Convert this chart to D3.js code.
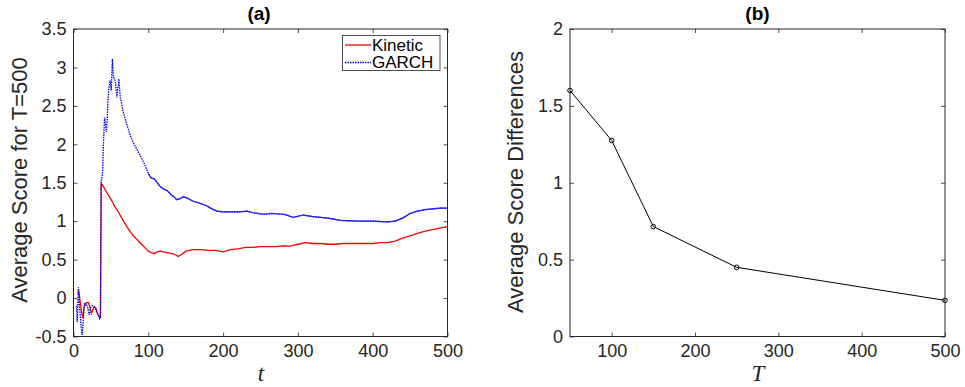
<!DOCTYPE html>
<html>
<head>
<meta charset="utf-8">
<script src="https://cdn.jsdelivr.net/npm/d3@7"></script>
<style>
  html, body { margin: 0; padding: 0; background: #fff; }
  svg { display: block; }
</style>
</head>
<body>
<svg id="chart" width="965" height="387"></svg>
<script>
// ---------- Data: panel (a) ----------
const kineticT = [6,7,9,11,12.5,14,17,20,22,24,26,28,30,32,35,36,37,40,44,48,52,56,60,64,68,72,76,80,84,88,92,96,100,104,108,112,116,120,125,130,135,140,145,150,155,160,170,180,190,200,210,220,230,240,250,260,270,280,290,300,310,320,330,340,350,360,370,380,390,400,410,420,430,440,450,460,470,480,490,500];
const kineticV = [0.05,0.1,-0.05,-0.2,-0.26,-0.12,-0.06,-0.06,-0.12,-0.2,-0.15,-0.11,-0.13,-0.2,-0.25,-0.25,1.49,1.45,1.38,1.32,1.25,1.18,1.12,1.05,0.98,0.92,0.86,0.81,0.77,0.73,0.69,0.65,0.61,0.59,0.58,0.6,0.61,0.6,0.59,0.58,0.57,0.54,0.57,0.61,0.62,0.63,0.63,0.62,0.62,0.6,0.63,0.64,0.66,0.66,0.67,0.67,0.67,0.68,0.675,0.7,0.72,0.71,0.71,0.7,0.7,0.71,0.71,0.71,0.71,0.71,0.72,0.72,0.74,0.78,0.81,0.84,0.87,0.89,0.91,0.93];

const garchT = [4,5,6.5,8,10,11.6,13,14.7,17,19,21,23,25,28,30,32,35,36,37,38,39,40,41.5,43,44,45,46,47,49,50.5,52,53.5,55,56,58,59,60.7,62.5,64,66,70,75,80,85,90,95,100,104,108,112,116,120,125,130,135,138,142,147,152,160,170,178,185,192,200,210,220,232,240,254,265,281,294,307,320,340,357,380,400,419,430,440,450,460,470,480,490,500];
const garchV = [-0.1,-0.31,0.14,-0.1,-0.35,-0.48,-0.3,-0.07,-0.08,-0.12,-0.22,-0.12,-0.1,-0.12,-0.16,-0.2,-0.27,-0.27,1.53,1.55,1.66,2.0,2.35,2.25,2.16,2.31,2.55,2.7,2.83,2.7,3.11,2.87,2.85,2.81,2.61,2.7,2.85,2.61,2.55,2.44,2.3,2.14,2.02,1.93,1.84,1.74,1.62,1.56,1.55,1.5,1.45,1.42,1.4,1.35,1.31,1.28,1.29,1.32,1.3,1.26,1.23,1.2,1.16,1.13,1.12,1.12,1.12,1.13,1.11,1.09,1.1,1.09,1.05,1.08,1.06,1.04,1.01,1,1,0.99,1,1.04,1.1,1.13,1.15,1.16,1.17,1.17];

const seriesNames = ["Kinetic", "GARCH"];
const leftXTicks = [0,100,200,300,400,500];
const leftYTicks = [-0.5,0,0.5,1,1.5,2,2.5,3,3.5];

// ---------- Data: panel (b) ----------
const diffT = [50,100,150,250,500];
const diffV = [1.6,1.275,0.715,0.45,0.235];
const rightXTicks = [100,200,300,400,500];
const rightYTicks = [0,0.5,1,1.5,2];

// ---------- Drawing ----------
const SANS = "'Liberation Sans', Arial, Helvetica, sans-serif";
const SERIF = "'Liberation Serif', 'Times New Roman', serif";
const svg = d3.select("#chart");
svg.append("rect").attr("width",965).attr("height",387).attr("fill","#fff");

const axisColor = "#262626";
const tickFont = 18;

function drawAxes(g, x, y, xt, yt, xfmt, yfmt) {
  const [x0,x1] = x.range(), [y0,y1] = y.range();
  g.append("g").attr("transform",`translate(0,${y0})`)
    .call(d3.axisBottom(x).tickValues(xt).tickFormat(xfmt).tickSizeInner(-4).tickSizeOuter(0).tickPadding(8));
  g.append("g").attr("transform",`translate(0,${y1})`)
    .call(d3.axisTop(x).tickValues(xt).tickFormat("").tickSizeInner(-4).tickSizeOuter(0));
  g.append("g").attr("transform",`translate(${x0},0)`)
    .call(d3.axisLeft(y).tickValues(yt).tickFormat(yfmt).tickSizeInner(-4).tickSizeOuter(0).tickPadding(7));
  g.append("g").attr("transform",`translate(${x1},0)`)
    .call(d3.axisRight(y).tickValues(yt).tickFormat("").tickSizeInner(-4).tickSizeOuter(0));
  g.selectAll(".domain").remove();
  g.selectAll(".tick line").attr("stroke",axisColor).attr("stroke-width",0.8);
  g.selectAll(".tick text").style("font-size",tickFont+"px").style("font-family",SANS).attr("fill",axisColor);
  g.append("rect").attr("x",x0).attr("y",y1).attr("width",x1-x0).attr("height",y0-y1)
    .attr("fill","none").attr("stroke",axisColor).attr("stroke-width",1);
}

function addText(g, txt, opts) {
  const t = g.append("text").text(txt)
    .style("font-family", opts.family || SANS)
    .style("font-size", opts.size + "px")
    .attr("fill", opts.fill || axisColor)
    .attr("text-anchor", opts.anchor || "middle");
  if (opts.weight) t.style("font-weight", opts.weight);
  if (opts.italic) t.style("font-style", "italic");
  if (opts.transform) t.attr("transform", opts.transform);
  else t.attr("x", opts.x).attr("y", opts.y);
  if (opts.dy) t.attr("dy", opts.dy);
  return t;
}

// Panel (a)
const xa = d3.scaleLinear().domain([0,500]).range([73.5,447.5]);
const ya = d3.scaleLinear().domain([-0.5,3.5]).range([336.5,29]);
const ga = svg.append("g");
const fmtA = d => d === 0 ? "0" : String(d);

svg.append("clipPath").attr("id","clipA").append("rect")
  .attr("x",73.5).attr("y",29).attr("width",374).attr("height",307.5);

const lineA = (T) => d3.line().x((d,i)=>xa(T[i])).y(d=>ya(d));
ga.append("path").datum(kineticV).attr("d", lineA(kineticT))
  .attr("fill","none").attr("stroke","#ff0000").attr("stroke-width",1.3).attr("clip-path","url(#clipA)");
// dotted GARCH line (MATLAB ':' style); dense noisy section reads as solid
ga.append("path").datum(garchV).attr("d", lineA(garchT))
  .attr("fill","none").attr("stroke","#0000ff").attr("stroke-width",1.3)
  .attr("stroke-dasharray","1.5,1").attr("clip-path","url(#clipA)");
const denseIdx = garchT.map((t,i)=>i).filter(i=>garchT[i] >= 100);
ga.append("path").datum(denseIdx)
  .attr("d", d3.line().x(i=>xa(garchT[i])).y(i=>ya(garchV[i])))
  .attr("fill","none").attr("stroke","#1f1fff").attr("stroke-width",1.2).attr("clip-path","url(#clipA)");

drawAxes(ga, xa, ya, leftXTicks, leftYTicks, d3.format("d"), fmtA);

// legend
const lg = ga.append("g");
lg.append("rect").attr("x",342.5).attr("y",35.5).attr("width",97.5).attr("height",35)
  .attr("fill","#fff").attr("stroke",axisColor).attr("stroke-width",0.8);
const legColors = ["#ff0000","#0000ff"];
seriesNames.forEach((n,i)=>{
  const yy = 45 + i*17.5;
  lg.append("line").attr("x1",345).attr("x2",371).attr("y1",yy).attr("y2",yy)
    .attr("stroke",legColors[i]).attr("stroke-width",1.3)
    .attr("stroke-dasharray", i===1 ? "1.5,1" : null);
  addText(lg, n, {x:372, y:yy, dy:"0.35em", size:17, anchor:"start", fill:"#000"});
});

addText(ga, "(a)", {x:259, y:20, size:19, weight:"bold", fill:"#000"});
addText(ga, "Average Score for T=500", {transform:"translate(27,180) rotate(-90)", size:22});
addText(ga, "t", {x:261, y:381, size:23, family:SERIF, italic:true});

// Panel (b)
const xb = d3.scaleLinear().domain([50,500]).range([570,945]);
const yb = d3.scaleLinear().domain([0,2]).range([336.5,29]);
const gb = svg.append("g");
gb.append("path").datum(diffV)
  .attr("d", d3.line().x((d,i)=>xb(diffT[i])).y(d=>yb(d)))
  .attr("fill","none").attr("stroke","#000").attr("stroke-width",1);
gb.selectAll("circle").data(diffV).join("circle")
  .attr("cx",(d,i)=>xb(diffT[i])).attr("cy",d=>yb(d)).attr("r",2.3)
  .attr("fill","none").attr("stroke","#000").attr("stroke-width",1);
drawAxes(gb, xb, yb, rightXTicks, rightYTicks, d3.format("d"), d => d === 0 ? "0" : String(d));

addText(gb, "(b)", {x:757.5, y:20, size:19, weight:"bold", fill:"#000"});
addText(gb, "Average Score Differences", {transform:"translate(523,182) rotate(-90)", size:22});
addText(gb, "T", {x:758, y:381, size:23, family:SERIF, italic:true});
</script>
</body>
</html>
